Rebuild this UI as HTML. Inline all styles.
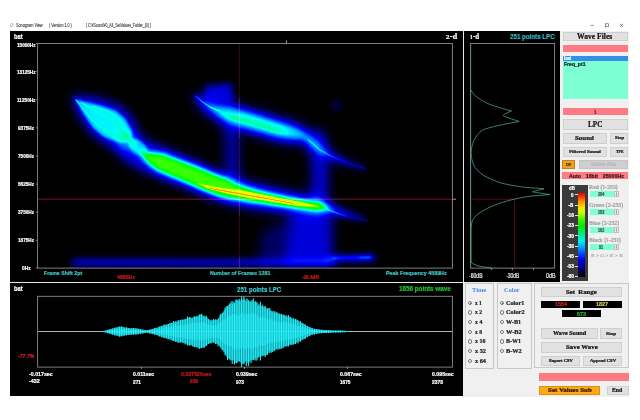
<!DOCTYPE html>
<html><head><meta charset="utf-8">
<style>
html,body{margin:0;padding:0;background:#fff;}
body{width:640px;height:420px;position:relative;overflow:hidden;font-family:"Liberation Sans",sans-serif;}
.a{position:absolute;}
.t{position:absolute;white-space:pre;line-height:1;font-weight:bold;color:#fff;font-size:5.5px;}
.s{font-family:"Liberation Serif",serif;}
.btn{position:absolute;background:#e1e1e1;border:0.5px solid #cfcfcf;box-sizing:border-box;font-family:"Liberation Serif",serif;font-weight:bold;color:#111;text-align:center;white-space:nowrap;overflow:hidden;}
.bar{position:absolute;background:#ff7a82;}
.grp{position:absolute;border:0.6px solid #c8c8c8;box-sizing:border-box;background:#f0f0f0;}
.rad{position:absolute;width:4.6px;height:4.6px;border:0.45px solid #777;border-radius:50%;background:#fff;box-sizing:border-box;}
.rad.on::after{content:"";position:absolute;left:1.0px;top:1.0px;width:1.7px;height:1.7px;border-radius:50%;background:#333;}
.rl{position:absolute;font-family:"Liberation Serif",serif;font-weight:bold;font-size:5.6px;line-height:1;color:#222;white-space:nowrap;}
.fld{position:absolute;background:#000;text-align:center;font-weight:bold;font-size:5.6px;line-height:7px;}
.spin{position:absolute;background:#7fffd4;font-size:4.6px;line-height:6px;text-align:center;color:#333;font-weight:bold;}
.sl{position:absolute;font-family:"Liberation Serif",serif;font-weight:bold;font-size:5.4px;line-height:1;color:#9a9a9a;white-space:nowrap;}
.db{position:absolute;color:#fff;font-size:4.6px;line-height:1;font-weight:bold;text-align:right;width:12px;}
</style></head><body>

<!-- title bar -->
<svg class="a" style="left:10.1px;top:23.3px" width="3.6" height="4.4" viewBox="0 0 5 6"><circle cx="2.4" cy="2.4" r="1.9" fill="#eef6ff" stroke="#5a7fb0" stroke-width="0.6"/><path d="M1.2 4.2 L0.6 5.6 L2.4 4.4" fill="#5a7fb0"/></svg>
<svg class="a" style="left:585px;top:20px" width="45" height="10" viewBox="0 0 45 10">
 <path d="M5.6 5.4 H8.8" stroke="#444" stroke-width="0.6"/>
 <rect x="20.3" y="3.8" width="3" height="3" fill="none" stroke="#444" stroke-width="0.6"/>
 <path d="M35 3.8 L38 6.9 M38 3.8 L35 6.9" stroke="#444" stroke-width="0.6"/>
</svg>

<!-- black panels -->
<div class="a" style="left:10px;top:31px;width:549.5px;height:364.7px;background:#000;"></div>
<!-- light grey right + bottom panel -->
<div class="a" style="left:559.5px;top:31px;width:69.2px;height:366px;background:#f0f0f0;"></div>
<div class="a" style="left:463.3px;top:282.6px;width:165.4px;height:114.4px;background:#f0f0f0;"></div>
<!-- separators -->
<div class="a" style="left:10px;top:281.6px;width:549.5px;height:1.2px;background:#e8e8e8;"></div>
<div class="a" style="left:463px;top:31px;width:1.2px;height:252px;background:#e8e8e8;"></div>

<!-- main svg (spectrogram + axes + wave + 1d) -->
<svg class="a" style="left:0;top:0" width="640" height="420" viewBox="0 0 640 420">
<defs>
<clipPath id="specclip"><rect x="38" y="43.5" width="414.4" height="224.6"/></clipPath>
<filter id="b7" x="-20%" y="-20%" width="140%" height="140%"><feGaussianBlur stdDeviation="6"/></filter>
<filter id="b4" x="-20%" y="-20%" width="140%" height="140%"><feGaussianBlur stdDeviation="3.2"/></filter>
<filter id="b2" x="-20%" y="-20%" width="140%" height="140%"><feGaussianBlur stdDeviation="1.8"/></filter>
<filter id="b1" x="-20%" y="-20%" width="140%" height="140%"><feGaussianBlur stdDeviation="0.7"/></filter>
<filter id="cmap" x="0" y="0" width="100%" height="100%" color-interpolation-filters="sRGB">
 <feComponentTransfer>
  <feFuncR type="table" tableValues="0 0 0 0 0 0 0 0.6 1 1 1"/>
  <feFuncG type="table" tableValues="0 0 0 0.5 1 1 1 1 1 0.5 0"/>
  <feFuncB type="table" tableValues="0 0.55 1 1 1 0.5 0 0 0 0 0"/>
 </feComponentTransfer>
</filter>
</defs>

<g clip-path="url(#specclip)">
<g filter="url(#cmap)">
<rect x="30" y="36" width="430" height="240" fill="#000"/>
<g filter="url(#b7)" fill="#fff" stroke="#fff" stroke-linecap="round" stroke-linejoin="round">
 <path d="M121.9,133.8 L125.7,134.6 L129.5,135.3 L132.7,135.6 L136.4,136.0 L139.5,137.7 L142.5,139.3 L145.5,141.0 L147.6,142.0 L150.6,143.3 L153.6,144.7 L156.6,146.0 L159.7,147.4 L162.1,148.4 L165.1,149.6 L168.1,150.9 L171.1,152.1 L174.1,153.4 L176.9,154.7 L179.8,155.8 L182.8,157.0 L185.8,158.2 L188.7,159.5 L191.7,160.7 L194.9,162.0 L198.1,163.4 L201.1,164.7 L204.1,166.1 L207.1,167.4 L210.0,168.7 L213.0,170.1 L215.5,171.2 L218.5,172.3 L221.5,173.5 L224.4,174.7 L227.4,175.9 L230.4,177.1 L233.4,178.3 L235.0,178.8 L238.0,179.6 L241.0,180.4 L244.0,181.2 L247.0,182.0 L250.0,182.9 L252.6,183.6 L255.3,184.3 L258.2,185.0 L261.2,185.7 L264.2,186.5 L267.1,187.2 L270.1,187.9 L272.9,188.6 L275.9,189.3 L278.8,190.0 L281.8,190.7 L284.8,191.3 L287.7,192.0 L290.7,192.7 L293.4,193.3 L296.4,193.8 L299.4,194.4 L302.3,195.0 L305.3,195.6 L308.3,196.2 L311.2,196.8 L314.0,197.3 L317.0,197.8 L319.9,198.6 L323.4,200.3 L326.6,202.5 L329.2,204.6 L331.9,206.4 L334.8,207.8 L337.7,209.1 L340.5,210.5 L343.4,211.9 L346.3,213.1 L349.2,214.1 L352.2,215.0 L355.2,215.8 L358.1,216.7 L361.1,217.5 L364.1,218.4 L363.9,219.0 L360.9,218.4 L357.9,217.7 L354.8,217.1 L351.8,216.4 L348.8,215.7 L345.7,215.0 L342.6,214.4 L339.5,214.0 L336.3,213.6 L333.2,213.2 L330.1,212.8 L326.8,212.9 L323.4,213.2 L320.6,213.7 L318.1,214.7 L315.0,214.8 L312.0,214.6 L308.8,214.4 L305.7,214.1 L302.7,213.9 L299.7,213.6 L296.6,213.3 L293.6,213.0 L290.6,212.7 L287.3,212.4 L284.3,212.0 L281.2,211.6 L278.2,211.2 L275.2,210.9 L272.1,210.5 L269.1,210.1 L265.9,209.7 L262.9,209.2 L259.8,208.8 L256.8,208.4 L253.8,207.9 L250.7,207.5 L247.4,207.0 L244.0,206.2 L241.0,205.5 L238.0,204.8 L235.0,204.1 L232.0,203.3 L229.0,202.6 L224.6,201.4 L221.6,200.3 L218.6,199.2 L215.6,198.1 L212.5,197.0 L209.5,195.9 L206.5,194.8 L203.0,193.4 L200.0,192.2 L196.9,190.9 L193.9,189.7 L190.9,188.4 L187.9,187.2 L185.1,186.0 L182.3,185.0 L179.3,183.9 L176.2,182.8 L173.2,181.6 L170.2,180.5 L167.1,179.3 L163.9,178.1 L160.9,176.9 L157.9,175.7 L154.9,174.5 L151.9,173.3 L148.3,171.7 L145.4,170.2 L142.4,168.8 L139.4,167.3 L136.4,165.9 L132.5,163.8 L129.5,162.1 L126.5,160.3 L123.6,158.6 L121.3,155.6 L118.5,152.0 L116.3,148.7 L114.1,145.5Z" fill-opacity="0.21" stroke="none"/>
 <path d="M72,96 L88,98 L103,101 L119,107 L130,117 L137,131 L135,146 L120,148 L102,141 L90,130 L80,114Z" fill-opacity="0.22" stroke="none"/>
 <path d="M195.6,94.1 L199.7,96.1 L203.4,97.8 L206.7,98.9 L210.3,100.1 L213.4,100.9 L216.0,101.0 L219.3,101.6 L222.6,102.1 L225.6,102.5 L228.6,102.6 L231.6,103.7 L234.6,104.7 L237.6,105.8 L240.2,106.6 L243.2,107.5 L246.2,108.4 L249.2,109.3 L252.2,110.2 L255.2,111.1 L258.2,112.0 L261.2,112.9 L264.2,113.8 L267.2,114.7 L270.2,115.6 L273.2,116.5 L276.2,117.4 L279.2,118.3 L282.2,119.2 L284.5,119.8 L287.5,120.5 L290.5,121.2 L293.4,122.1 L296.3,123.5 L299.3,125.0 L302.1,126.5 L304.9,128.0 L310.6,132.2 L313.1,135.4 L315.7,138.7 L318.2,142.0 L320.7,145.2 L322.6,147.7 L325.4,149.7 L328.2,151.6 L331.0,153.4 L333.8,154.9 L336.7,156.5 L339.6,158.0 L342.5,159.5 L345.4,161.1 L348.3,162.2 L351.3,163.3 L354.2,164.5 L357.2,165.6 L360.1,166.5 L363.1,167.4 L366.0,168.3 L366.0,168.7 L362.9,168.1 L359.9,167.5 L356.8,166.7 L353.8,165.8 L350.7,164.8 L347.7,163.9 L344.6,162.9 L341.5,161.9 L338.4,160.8 L335.3,159.7 L332.2,158.7 L329.0,157.6 L325.8,156.1 L322.6,154.7 L319.4,153.4 L315.3,151.2 L311.8,149.0 L308.3,146.9 L304.9,144.9 L301.4,142.8 L301.1,143.1 L297.9,143.0 L294.7,143.0 L291.7,143.0 L288.6,143.0 L285.5,142.6 L282.5,141.9 L279.5,141.2 L275.8,140.2 L272.8,139.3 L269.8,138.4 L266.8,137.5 L263.8,136.6 L260.8,135.7 L257.8,134.8 L254.8,133.9 L251.8,133.0 L248.8,132.1 L245.8,131.2 L242.8,130.3 L239.8,129.4 L236.8,128.5 L233.8,127.6 L230.4,126.5 L227.4,125.5 L224.4,124.5 L221.4,123.4 L218.4,121.5 L215.4,119.4 L212.7,117.4 L210.0,115.5 L206.6,113.1 L203.7,109.8 L201.3,106.8 L198.6,103.5 L196.3,100.0 L194.4,96.9Z" fill-opacity="0.2" stroke="none"/>
 <path d="M318,138 L320,170 L319,205" stroke-width="15" stroke-opacity="0.17" fill="none"/>
 <path d="M292,212 L331,214 L332,264 L286,264Z" fill-opacity="0.17" stroke="none"/>
 <path d="M262,232 L290,218 L290,264 L258,264Z" fill-opacity="0.07" stroke="none"/>
 <path d="M231,128 L233,178" stroke-width="13" stroke-opacity="0.13" fill="none"/>

</g>
<g filter="url(#b4)" fill="#fff" stroke="#fff" stroke-linecap="round" stroke-linejoin="round">
 <path d="M140.7,151.7 L143.1,151.5 L145.6,151.4 L148.1,151.3 L150.5,151.4 L152.8,151.6 L155.2,151.8 L157.5,152.1 L159.4,152.1 L161.7,152.2 L164.0,152.3 L166.0,153.2 L168.0,154.0 L170.0,154.8 L172.0,155.6 L174.0,156.4 L175.9,157.2 L177.8,157.9 L179.9,158.7 L181.9,159.4 L183.9,160.2 L185.9,160.9 L187.9,161.7 L189.9,162.5 L191.9,163.2 L194.1,164.1 L196.2,165.0 L198.3,165.8 L200.3,166.7 L202.3,167.5 L204.3,168.4 L206.3,169.2 L208.3,170.1 L210.3,170.9 L212.3,171.8 L214.1,172.5 L215.9,173.2 L217.9,173.9 L219.9,174.7 L221.9,175.4 L223.9,176.2 L225.9,176.9 L227.9,177.6 L229.9,178.5 L231.8,179.5 L233.1,180.4 L234.5,181.0 L236.4,181.7 L238.4,182.5 L240.3,183.3 L242.2,184.0 L244.2,184.7 L246.1,185.4 L248.1,186.0 L250.1,186.7 L251.8,187.3 L253.5,187.8 L255.5,188.3 L257.5,188.9 L259.4,189.4 L261.4,190.0 L263.4,190.5 L265.4,191.1 L267.3,191.6 L269.3,192.1 L271.2,192.5 L273.2,192.9 L275.1,193.3 L277.1,193.8 L279.1,194.2 L281.1,194.6 L283.1,195.0 L285.1,195.5 L287.1,195.9 L289.1,196.3 L291.0,196.7 L292.9,197.1 L294.8,197.4 L296.8,197.8 L298.8,198.2 L300.8,198.5 L302.8,198.9 L304.8,199.3 L306.8,199.6 L308.8,200.0 L310.7,200.3 L312.6,200.6 L314.6,201.0 L316.6,201.3 L318.6,201.6 L320.5,202.3 L322.8,203.1 L325.0,204.2 L326.8,205.3 L328.7,206.4 L330.7,207.1 L332.6,207.9 L334.5,208.6 L336.5,209.4 L338.5,210.1 L340.4,210.8 L342.4,211.5 L344.4,212.1 L346.4,212.8 L348.3,213.5 L350.3,214.1 L352.2,214.7 L354.2,215.3 L356.2,215.9 L358.2,216.5 L360.2,217.1 L362.1,217.6 L364.1,218.2 L366.0,218.8 L366.0,219.6 L363.9,219.2 L361.9,218.8 L359.8,218.3 L357.8,217.9 L355.8,217.5 L353.8,217.1 L351.8,216.7 L349.7,216.3 L347.7,215.7 L345.6,215.2 L343.6,214.7 L341.6,214.2 L339.6,213.7 L337.5,213.2 L335.5,212.8 L333.5,212.4 L331.4,212.0 L329.3,211.6 L327.3,211.2 L325.2,211.0 L323.0,210.9 L321.2,210.9 L319.5,211.2 L317.4,211.5 L315.4,211.3 L313.4,211.2 L311.4,211.0 L309.3,210.9 L307.2,210.6 L305.2,210.4 L303.2,210.2 L301.2,210.0 L299.2,209.8 L297.2,209.6 L295.2,209.3 L293.2,209.1 L291.1,208.9 L289.0,208.7 L286.9,208.4 L284.9,208.1 L282.9,207.8 L280.9,207.6 L278.9,207.3 L276.9,207.0 L274.9,206.7 L272.9,206.5 L270.8,206.2 L268.8,205.9 L266.7,205.6 L264.7,205.3 L262.6,205.0 L260.6,204.7 L258.6,204.5 L256.6,204.3 L254.5,204.0 L252.5,203.8 L250.5,203.6 L248.2,203.3 L245.9,202.9 L243.9,202.5 L241.9,202.2 L239.8,201.8 L237.8,201.5 L235.7,201.2 L233.6,201.0 L231.6,200.7 L229.5,200.5 L226.9,200.0 L224.2,199.3 L222.1,198.8 L220.1,198.2 L218.1,197.4 L216.1,196.6 L214.1,195.9 L212.1,195.1 L210.1,194.3 L208.1,193.5 L205.9,192.7 L203.7,191.7 L201.7,190.9 L199.7,190.0 L197.7,189.1 L195.7,188.2 L193.7,187.4 L191.7,186.5 L189.7,185.6 L187.8,184.7 L185.9,183.9 L184.1,183.2 L182.1,182.4 L180.1,181.6 L178.1,180.8 L176.1,180.0 L174.1,179.2 L172.1,178.5 L170.2,177.7 L168.1,176.8 L166.0,176.0 L164.0,175.1 L162.0,174.3 L160.0,173.4 L158.0,172.6 L156.0,171.8 L154.3,170.3 L152.6,168.7 L150.5,167.0 L148.8,165.4 L147.2,163.7 L145.5,162.0 L143.9,160.3 L142.4,158.3 L140.9,156.3 L139.3,154.3Z" fill-opacity="0.3" stroke="none"/>

 <path d="M195.3,94.8 L197.6,96.5 L199.8,98.0 L201.9,99.6 L203.9,100.9 L206.0,102.1 L208.1,103.3 L210.4,104.3 L212.1,104.8 L214.3,105.2 L216.5,105.6 L218.7,105.9 L220.9,106.2 L223.1,106.4 L225.0,106.5 L227.2,106.6 L229.4,106.7 L231.5,107.1 L233.6,107.7 L235.6,108.3 L237.5,108.8 L239.3,109.3 L241.4,109.8 L243.4,110.3 L245.4,110.8 L247.4,111.3 L249.5,111.8 L251.5,112.4 L253.5,112.9 L255.5,113.6 L257.5,114.2 L259.5,114.9 L261.4,115.5 L263.4,116.2 L265.4,116.8 L267.4,117.5 L269.4,118.1 L271.4,118.8 L273.4,119.4 L275.3,120.1 L277.3,120.7 L279.3,121.4 L281.3,122.0 L282.8,122.6 L284.7,123.3 L286.7,124.1 L288.6,124.8 L290.5,125.5 L292.5,126.3 L294.4,127.0 L296.4,127.8 L298.3,128.7 L300.2,129.8 L302.0,130.9 L303.9,132.0 L307.0,134.4 L308.9,136.3 L310.7,138.1 L312.7,140.0 L314.6,142.0 L316.5,143.9 L318.4,145.7 L320.4,147.6 L322.0,148.8 L323.9,149.9 L325.9,151.1 L327.9,152.3 L329.8,153.4 L331.7,154.4 L333.6,155.3 L335.6,156.3 L337.6,157.2 L339.6,158.1 L341.5,159.1 L343.5,160.0 L345.4,160.9 L347.4,161.6 L349.3,162.4 L351.3,163.2 L353.3,163.9 L355.3,164.7 L357.2,165.5 L359.2,166.1 L361.1,166.7 L363.1,167.3 L365.1,167.8 L364.9,168.7 L362.9,168.2 L360.9,167.8 L358.8,167.4 L356.8,166.9 L354.7,166.2 L352.7,165.6 L350.7,165.0 L348.7,164.4 L346.6,163.7 L344.6,163.1 L342.5,162.3 L340.5,161.5 L338.4,160.7 L336.4,159.9 L334.4,159.1 L332.4,158.3 L330.3,157.5 L328.2,156.5 L326.1,155.4 L324.1,154.4 L322.1,153.4 L320.0,152.3 L317.6,150.6 L315.6,148.9 L313.5,147.1 L311.4,145.4 L309.3,143.8 L307.3,142.1 L305.1,140.5 L303.0,138.9 L302.1,139.0 L300.0,139.1 L297.8,139.2 L295.7,139.3 L293.6,139.2 L291.6,139.0 L289.5,138.9 L287.5,138.7 L285.4,138.5 L283.3,138.3 L281.3,138.1 L279.2,137.9 L276.7,137.4 L274.7,136.8 L272.7,136.3 L270.7,135.7 L268.6,135.2 L266.6,134.6 L264.6,134.1 L262.6,133.5 L260.6,133.0 L258.6,132.4 L256.6,131.9 L254.5,131.3 L252.5,130.8 L250.5,130.2 L248.5,129.7 L246.5,129.0 L244.5,128.4 L242.6,127.7 L240.6,127.0 L238.6,126.3 L236.6,125.6 L234.7,124.9 L232.5,124.2 L230.4,123.3 L228.4,122.6 L226.5,121.8 L224.6,120.8 L222.8,119.5 L221.0,118.2 L218.9,116.7 L217.1,115.3 L215.3,113.9 L213.5,112.6 L211.7,111.3 L209.9,110.1 L207.6,108.3 L205.9,106.6 L204.0,105.0 L202.1,103.5 L200.1,101.7 L198.2,99.8 L196.4,97.9 L194.7,96.2Z" fill-opacity="0.24" stroke="none"/>
 <path d="M204,86.5 L231,83 L234,102 L206,100Z" fill-opacity="0.16" stroke="none"/>
 <path d="M75,262.5 L140,262.5 L200,263 L270,262.5 L330,262" stroke-width="7" stroke-opacity="0.16" fill="none"/>
 <path d="M330,259 L372,258" stroke-width="8" stroke-opacity="0.13" fill="none"/>
 <path d="M336,105 L337,106" stroke-width="8" stroke-opacity="0.07" fill="none"/>
</g>
<g filter="url(#b2)" fill="#fff" stroke="#fff" stroke-linecap="round" stroke-linejoin="round">
 <path d="M142.0,153.9 L144.5,153.8 L147.0,153.8 L149.4,153.7 L151.9,153.6 L154.2,154.0 L156.4,154.4 L158.4,154.6 L160.6,154.9 L162.9,155.1 L164.9,155.9 L166.9,156.7 L168.9,157.4 L171.0,158.2 L173.0,159.0 L174.9,159.7 L176.9,160.4 L178.9,161.1 L180.9,161.8 L182.9,162.5 L185.0,163.3 L187.0,164.0 L189.0,164.7 L191.0,165.4 L193.2,166.2 L195.4,167.1 L197.4,167.9 L199.4,168.7 L201.4,169.5 L203.5,170.3 L205.5,171.1 L207.5,172.0 L209.5,172.8 L211.5,173.7 L213.3,174.5 L215.1,175.2 L217.1,175.9 L219.1,176.7 L221.1,177.5 L223.1,178.2 L225.1,179.0 L227.0,180.1 L228.8,181.3 L230.7,182.4 L232.1,183.4 L233.6,184.3 L235.5,185.2 L237.5,185.8 L239.5,186.4 L241.5,187.0 L243.4,187.6 L245.4,188.2 L247.4,188.8 L249.4,189.5 L251.2,190.0 L253.0,190.5 L255.0,191.0 L257.0,191.5 L259.0,192.0 L260.9,192.5 L262.9,193.0 L264.9,193.4 L266.9,193.8 L268.9,194.3 L270.8,194.7 L272.8,195.1 L274.8,195.5 L276.8,195.9 L278.8,196.3 L280.7,196.7 L282.7,197.1 L284.7,197.5 L286.7,197.8 L288.7,198.2 L290.7,198.6 L292.6,199.0 L294.6,199.3 L296.6,199.6 L298.6,200.0 L300.6,200.3 L302.6,200.6 L304.5,201.0 L306.5,201.3 L308.5,201.6 L310.5,202.0 L312.4,202.2 L314.4,202.5 L316.4,202.8 L318.4,203.1 L320.3,204.0 L322.4,204.9 L324.4,206.2 L326.2,207.5 L328.0,208.8 L328.0,208.8 L325.8,208.8 L323.6,208.9 L321.6,209.1 L319.7,209.5 L317.6,210.0 L315.6,209.8 L313.6,209.6 L311.6,209.4 L309.5,209.2 L307.5,209.0 L305.5,208.7 L303.5,208.5 L301.4,208.3 L299.4,208.0 L297.4,207.8 L295.4,207.5 L293.4,207.3 L291.4,207.0 L289.3,206.8 L287.3,206.5 L285.3,206.2 L283.3,205.8 L281.3,205.5 L279.3,205.2 L277.2,204.9 L275.2,204.6 L273.2,204.3 L271.2,204.0 L269.2,203.7 L267.1,203.3 L265.1,203.0 L263.1,202.6 L261.1,202.3 L259.1,202.0 L257.0,201.7 L255.0,201.4 L253.0,201.2 L251.0,200.9 L248.8,200.6 L246.6,200.1 L244.6,199.7 L242.6,199.3 L240.6,198.9 L238.5,198.5 L236.5,198.1 L234.5,197.7 L232.5,197.3 L230.4,197.2 L227.9,197.0 L225.3,196.5 L223.2,196.1 L221.0,195.7 L218.9,195.3 L216.9,194.6 L214.9,193.8 L212.9,193.1 L210.9,192.3 L208.9,191.5 L206.7,190.7 L204.5,189.8 L202.5,188.9 L200.5,188.1 L198.5,187.2 L196.5,186.3 L194.6,185.4 L192.6,184.5 L190.6,183.6 L188.6,182.7 L186.8,181.8 L185.0,181.0 L183.0,180.2 L181.0,179.4 L179.0,178.5 L177.1,177.7 L175.1,176.8 L173.1,176.0 L171.1,175.2 L169.1,174.3 L167.0,173.4 L165.0,172.5 L163.1,171.6 L161.1,170.8 L159.1,169.9 L157.1,169.0 L155.4,167.6 L153.6,166.2 L151.6,164.7 L149.8,163.2 L148.1,161.7 L146.6,159.8 L145.0,157.8 L143.5,155.9 L142.0,153.9Z" fill-opacity="0.34" stroke="none"/>
 <path d="M74,98 L88,102 L101,105.5 L116,110.5 L126,119.5 L132,131 L131.5,141 L120,142.5 L104,137.5 L93,128.5 L83,114Z" fill-opacity="0.225" stroke="none"/>
 <ellipse cx="138" cy="147" rx="10.5" ry="6.8" transform="rotate(36 138 147)" fill-opacity="0.2" stroke="none"/>
 <path d="M219.4,112.6 L221.5,113.3 L223.6,113.7 L225.7,114.2 L227.8,114.6 L229.9,115.1 L232.0,115.6 L234.0,116.2 L236.0,116.9 L238.0,117.5 L240.0,118.1 L242.0,118.7 L244.0,119.3 L246.0,119.9 L248.0,120.5 L250.0,121.1 L252.0,121.7 L254.0,122.2 L256.0,122.8 L258.0,123.4 L260.0,124.0 L262.0,124.6 L264.0,125.2 L266.0,125.8 L268.0,126.4 L270.0,127.0 L272.0,127.6 L274.0,128.2 L276.0,128.9 L277.9,129.7 L279.9,130.5 L281.9,131.1 L283.8,131.8 L285.8,132.4 L287.7,133.1 L289.7,133.7 L291.6,134.4 L291.6,134.4 L289.6,134.1 L287.6,133.8 L285.5,133.5 L283.5,133.2 L281.4,132.9 L279.3,132.6 L277.2,132.2 L275.1,131.8 L273.1,131.3 L271.1,130.7 L269.1,130.1 L267.1,129.4 L265.1,128.8 L263.1,128.2 L261.1,127.6 L259.1,127.0 L257.1,126.4 L255.1,125.8 L253.1,125.2 L251.1,124.6 L249.1,124.0 L247.1,123.4 L245.1,122.8 L243.1,122.2 L241.1,121.6 L239.1,121.0 L237.1,120.4 L235.1,119.8 L233.0,119.1 L231.0,118.4 L229.1,117.5 L227.1,116.5 L225.2,115.6 L223.3,114.7 L221.3,113.7 L219.4,112.6Z" fill-opacity="0.22" stroke="none"/>
 <path d="M233.0,112.4 L235.1,112.9 L237.1,113.2 L239.1,113.6 L241.2,113.9 L243.3,114.3 L245.3,114.9 L247.3,115.5 L249.3,116.1 L251.3,116.7 L253.3,117.3 L255.3,117.9 L257.3,118.5 L259.3,119.1 L261.3,119.7 L263.3,120.3 L265.3,120.9 L267.3,121.5 L269.3,122.1 L271.3,122.7 L273.3,123.3 L275.3,123.9 L277.3,124.5 L279.3,125.1 L281.2,125.7 L283.0,126.3 L284.9,127.0 L286.9,127.7 L288.8,128.3 L290.8,129.0 L292.7,129.7 L292.7,129.7 L290.7,129.4 L288.6,129.2 L286.6,128.9 L284.5,128.7 L282.5,128.4 L280.5,128.2 L278.5,127.6 L276.5,127.0 L274.5,126.4 L272.5,125.8 L270.5,125.2 L268.5,124.6 L266.5,124.0 L264.5,123.4 L262.5,122.8 L260.5,122.2 L258.5,121.6 L256.5,121.0 L254.5,120.4 L252.5,119.8 L250.5,119.2 L248.5,118.6 L246.5,118.0 L244.5,117.4 L242.5,116.8 L240.6,115.9 L238.7,115.1 L236.8,114.2 L235.0,113.4 L233.0,112.4Z" fill-opacity="0.1" stroke="none"/>
 <path d="M333,258.3 L371,257.3" stroke-width="2.4" stroke-opacity="0.2" fill="none"/>
 <path d="M360,257.6 L371,257.3" stroke-width="2.4" stroke-opacity="0.12" fill="none"/>
</g>
<g filter="url(#b1)" fill="#fff" stroke="#fff" stroke-linecap="butt" stroke-linejoin="round">
 <path d="M196.0,183.0 L198.1,183.4 L200.2,183.8 L202.2,184.3 L204.3,184.7 L206.4,185.1 L208.5,185.5 L210.4,186.1 L212.3,186.4 L214.3,186.7 L216.4,187.0 L218.4,187.3 L220.4,187.7 L222.4,188.0 L224.4,188.3 L226.4,188.6 L228.5,188.9 L230.4,189.2 L232.4,189.5 L234.5,189.8 L236.5,190.1 L238.5,190.4 L240.5,190.6 L242.5,191.0 L244.5,191.4 L246.5,191.8 L248.5,192.1 L250.5,192.5 L252.5,192.9 L254.5,193.3 L256.5,193.6 L258.5,194.0 L260.5,194.4 L262.5,194.7 L264.5,195.1 L266.5,195.5 L268.5,195.9 L270.5,196.2 L272.5,196.6 L274.5,197.0 L276.4,197.3 L278.4,197.7 L280.4,198.1 L282.4,198.5 L284.4,198.8 L286.4,199.2 L288.4,199.6 L290.4,199.9 L292.4,200.3 L294.3,200.6 L296.3,200.9 L298.3,201.2 L300.3,201.5 L302.3,202.1 L304.3,202.6 L306.2,203.2 L308.2,203.7 L310.2,204.3 L312.1,204.8 L314.1,205.4 L316.0,205.9 L318.0,206.5 L318.0,206.5 L316.0,206.5 L313.9,206.5 L311.9,206.4 L309.8,206.4 L307.8,206.4 L305.8,206.4 L303.7,206.3 L301.7,206.3 L299.7,206.3 L297.7,206.0 L295.7,205.7 L293.7,205.5 L291.6,205.1 L289.6,204.8 L287.6,204.5 L285.6,204.1 L283.6,203.8 L281.6,203.4 L279.6,203.1 L277.6,202.7 L275.6,202.4 L273.5,202.0 L271.5,201.7 L269.5,201.4 L267.5,201.0 L265.5,200.7 L263.5,200.3 L261.5,200.0 L259.5,199.6 L257.5,199.3 L255.5,198.9 L253.5,198.6 L251.5,198.2 L249.5,197.9 L247.5,197.5 L245.5,197.2 L243.5,196.8 L241.5,196.5 L239.5,196.2 L237.5,195.7 L235.5,195.3 L233.5,194.8 L231.6,194.4 L229.6,194.0 L227.5,193.5 L225.6,193.0 L223.6,192.5 L221.6,192.0 L219.6,191.5 L217.6,191.1 L215.6,190.6 L213.7,190.1 L211.7,189.6 L209.6,189.1 L207.5,188.4 L205.6,187.5 L203.7,186.6 L201.8,185.7 L199.8,184.8 L197.9,183.9 L196.0,183.0Z" fill-opacity="0.36" stroke="none"/>
 <path d="M210,188.3 L230,192 L250,195.6 L270,199.2 L293,203.3" stroke-width="1.3" stroke-opacity="0.55" fill="none"/>
 <path d="M236,189.8 L255,193.4 L275,197.2" stroke-width="0.9" stroke-opacity="0.3" fill="none"/>
 <path d="M76,100 L84,110 L93,121 L104,130 L116,136" stroke-width="1.6" stroke-opacity="0.09" fill="none"/>
 <path d="M80,102 L96,111 L110,119 L121,129 L127,137" stroke-width="1.8" stroke-opacity="0.08" fill="none"/>
 <path d="M92,106 L106,110.5 L117,117 L124,125" stroke-width="1.8" stroke-opacity="0.07" fill="none"/>
 <path d="M75,99 L80,104" stroke-width="1.4" stroke-opacity="0.12" fill="none"/>
 <path d="M195,95.5 L202,101.5 L210,107 L222,112" stroke-width="1.4" stroke-opacity="0.18" fill="none"/>
 <path d="M308,139.5 L320,150 L330,155.5 L345,162" stroke-width="1.6" stroke-opacity="0.1" fill="none"/>
 <path d="M345,162 L358,166.5 L366,168.5" stroke-width="1.3" stroke-opacity="0.1" fill="none"/>
 <path d="M326,209 L335,212.6 L347,216.6" stroke-width="1.6" stroke-opacity="0.13" fill="none"/>
 <path d="M347,216.6 L358,218.9 L368,220.6" stroke-width="1.3" stroke-opacity="0.1" fill="none"/>
</g>
</g>
</g>

<!-- crosshair -->
<path d="M239.3,44 V268" stroke="#420c14" stroke-width="0.8" style="mix-blend-mode:screen"/>
<path d="M239.3,105 V130 M239.3,184 V207" stroke="#ffd0e0" stroke-width="0.7" opacity="0.22"/>
<path d="M239.3,98 V105 M239.3,130 V138 M239.3,176 V184 M239.3,207 V216 M239.3,257 V268" stroke="#c8a0ff" stroke-width="0.7" opacity="0.22"/>
<path d="M38,199.2 H452" stroke="#8a1424" stroke-width="0.9" style="mix-blend-mode:screen"/>
<path d="M452,199.2 H456" stroke="#ddd" stroke-width="0.7"/>
<path d="M286.5,40.5 V43.5" stroke="#ddd" stroke-width="0.7"/>
<!-- spectrogram axes -->
<rect x="37.6" y="43.5" width="414.8" height="224.6" fill="none" stroke="#8c8c8c" stroke-width="0.9"/>
<path d="M35.8,43.6 H37.6 M35.8,71.7 H37.6 M35.8,99.8 H37.6 M35.8,127.9 H37.6 M35.8,156 H37.6 M35.8,184.1 H37.6 M35.8,212.2 H37.6 M35.8,240.3 H37.6 M35.8,268 H37.6" stroke="#aaa" stroke-width="0.7"/>
<!-- 1-d panel -->
<rect x="470.6" y="43.5" width="84" height="224.6" fill="none" stroke="#8c8c8c" stroke-width="0.9"/>
<path d="M470.6,43.5 V268" stroke="#4a9088" stroke-width="0.9"/>
<path d="M491.3,268 V270.2 M512.3,268 V270.2 M533.4,268 V270.2" stroke="#bbb" stroke-width="0.7"/>
<path d="M471,199.2 H514.6 V268" fill="none" stroke="#6a1018" stroke-width="0.8"/>
<path d="M470.8,90 C474,96 480,100 490,104.5 C500,108 508,110 511.5,111 C506,113 503,114.5 503.5,116 C508,118 515,120 519,121.5 C505,124 490,127 482.5,130 C475,136 472,142 471,152.5 C471.5,160 473,164 475,167.5 C479,172 482,175 487.5,177.5 C495,181 500,183 507.5,184.5 C517,186.5 525,187.3 530,187.7 C537,188.2 541,188.5 544,188.8 C538,190.3 533,191.3 532.5,191.8 C538,193 545,193.8 550,194.5 C543,195.3 535,195.8 530,196.2 C522,197.5 517,198.5 512.5,199.6 C505,201.5 500,203 495,205 C488,208 484,210 480,212.5 C476,215.5 474,217.5 472.5,220.5 C471.3,224 471,227 471,232 L471,262 C473,264 475,265 477.5,265.6 C482,266.8 486,267.3 491,267.8" fill="none" stroke="#5cb0a6" stroke-width="0.7"/>
<!-- wave panel -->
<path d="M38,331.5 H452" stroke="#e0e0e0" stroke-width="0.8"/>
<path d="M100.0,331.5 L101.2,331.4 L102.4,331.2 L103.6,331.1 L104.8,330.8 L106.0,330.5 L107.2,330.1 L108.4,329.6 L109.6,329.2 L110.8,328.9 L112.0,328.7 L113.2,328.2 L114.4,328.0 L115.6,327.8 L116.8,327.3 L118.0,327.0 L119.2,326.7 L120.4,326.6 L121.6,326.5 L122.8,326.8 L124.0,327.3 L125.2,327.5 L126.4,327.5 L127.6,327.7 L128.8,327.9 L130.0,328.5 L131.2,328.1 L132.4,328.1 L133.6,328.5 L134.8,328.3 L136.0,328.6 L137.2,328.3 L138.4,328.9 L139.6,329.1 L140.8,329.2 L142.0,329.5 L143.2,329.8 L144.4,329.9 L145.6,330.1 L146.8,330.3 L148.0,329.9 L149.2,329.8 L150.4,329.6 L151.6,329.2 L152.8,329.0 L154.0,328.6 L155.2,328.0 L156.4,327.8 L157.6,327.5 L158.8,327.1 L160.0,326.6 L161.2,325.8 L162.4,325.7 L163.6,325.6 L164.8,324.6 L166.0,324.7 L167.2,323.9 L168.4,324.0 L169.6,322.9 L170.8,323.0 L172.0,323.0 L173.2,322.5 L174.4,322.1 L175.6,321.4 L176.8,321.6 L178.0,321.4 L179.2,320.5 L180.4,320.1 L181.6,319.3 L182.8,320.3 L184.0,319.3 L185.2,319.4 L186.4,318.5 L187.6,318.5 L188.8,317.2 L190.0,317.3 L191.2,317.9 L192.4,317.8 L193.6,316.3 L194.8,317.2 L196.0,316.0 L197.2,316.0 L198.4,316.1 L199.6,314.5 L200.8,314.6 L202.0,314.8 L203.2,316.0 L204.4,315.3 L205.6,316.8 L206.8,317.0 L208.0,318.4 L209.2,319.3 L210.4,320.4 L211.6,319.6 L212.8,320.3 L214.0,320.0 L215.2,320.0 L216.4,320.1 L217.6,319.4 L218.8,317.4 L220.0,315.3 L221.2,313.7 L222.4,312.8 L223.6,311.0 L224.8,309.7 L226.0,306.2 L227.2,306.0 L228.4,304.9 L229.6,304.3 L230.8,301.7 L232.0,300.9 L233.2,301.4 L234.4,302.5 L235.6,299.5 L236.8,299.7 L238.0,301.1 L239.2,300.1 L240.4,300.8 L241.6,299.0 L242.8,300.1 L244.0,297.3 L245.2,300.8 L246.4,297.9 L247.6,298.8 L248.8,300.5 L250.0,301.8 L251.2,300.6 L252.4,299.7 L253.6,302.6 L254.8,301.3 L256.0,302.0 L257.2,302.2 L258.4,303.5 L259.6,304.8 L260.8,306.8 L262.0,305.2 L263.2,307.1 L264.4,306.4 L265.6,307.3 L266.8,308.6 L268.0,307.9 L269.2,308.4 L270.4,311.0 L271.6,310.3 L272.8,311.5 L274.0,310.8 L275.2,311.2 L276.4,312.4 L277.6,312.8 L278.8,313.5 L280.0,314.7 L281.2,313.5 L282.4,314.8 L283.6,315.6 L284.8,315.0 L286.0,316.8 L287.2,316.3 L288.4,316.8 L289.6,316.8 L290.8,317.3 L292.0,318.5 L293.2,319.3 L294.4,319.2 L295.6,319.2 L296.8,319.6 L298.0,320.2 L299.2,321.7 L300.4,322.3 L301.6,322.5 L302.8,323.0 L304.0,324.2 L305.2,324.5 L306.4,325.8 L307.6,326.0 L308.8,326.8 L310.0,327.3 L311.2,327.7 L312.4,328.0 L313.6,328.7 L314.8,328.9 L316.0,329.0 L317.2,329.3 L318.4,329.3 L319.6,329.7 L320.8,329.8 L322.0,329.7 L323.2,329.9 L324.4,330.0 L325.6,329.9 L326.8,330.0 L328.0,330.2 L329.2,330.2 L330.4,330.3 L331.6,330.4 L332.8,330.5 L334.0,330.5 L335.2,330.5 L336.4,330.5 L337.6,330.6 L338.8,330.6 L340.0,330.6 L341.2,330.6 L342.4,330.7 L343.6,330.7 L344.8,330.7 L346.0,330.9 L347.2,331.1 L348.4,331.3 L349.6,331.4 L349.6,331.6 L348.4,331.7 L347.2,331.9 L346.0,332.1 L344.8,332.2 L343.6,332.3 L342.4,332.3 L341.2,332.3 L340.0,332.4 L338.8,332.4 L337.6,332.4 L336.4,332.4 L335.2,332.5 L334.0,332.5 L332.8,332.6 L331.6,332.7 L330.4,332.7 L329.2,332.7 L328.0,332.8 L326.8,332.8 L325.6,332.9 L324.4,333.0 L323.2,333.1 L322.0,333.2 L320.8,333.2 L319.6,333.3 L318.4,333.6 L317.2,333.7 L316.0,333.7 L314.8,334.0 L313.6,334.4 L312.4,334.7 L311.2,335.0 L310.0,335.6 L308.8,335.9 L307.6,336.6 L306.4,337.6 L305.2,338.4 L304.0,338.7 L302.8,339.6 L301.6,340.2 L300.4,341.0 L299.2,341.4 L298.0,341.5 L296.8,342.6 L295.6,343.3 L294.4,343.9 L293.2,343.5 L292.0,344.9 L290.8,344.4 L289.6,344.7 L288.4,345.1 L287.2,346.8 L286.0,346.6 L284.8,346.8 L283.6,348.2 L282.4,348.3 L281.2,349.1 L280.0,349.3 L278.8,349.3 L277.6,350.0 L276.4,349.2 L275.2,350.3 L274.0,351.6 L272.8,351.6 L271.6,353.0 L270.4,352.4 L269.2,353.6 L268.0,352.5 L266.8,355.0 L265.6,355.6 L264.4,355.6 L263.2,355.7 L262.0,355.7 L260.8,357.1 L259.6,356.7 L258.4,357.4 L257.2,360.7 L256.0,360.5 L254.8,360.5 L253.6,359.5 L252.4,360.6 L251.2,360.2 L250.0,361.0 L248.8,363.7 L247.6,363.1 L246.4,361.3 L245.2,361.4 L244.0,363.0 L242.8,364.3 L241.6,362.9 L240.4,362.4 L239.2,361.6 L238.0,360.9 L236.8,363.5 L235.6,362.9 L234.4,361.2 L233.2,360.1 L232.0,359.8 L230.8,361.0 L229.6,358.9 L228.4,358.6 L227.2,357.8 L226.0,355.6 L224.8,352.8 L223.6,352.5 L222.4,349.3 L221.2,349.6 L220.0,347.0 L218.8,344.9 L217.6,344.2 L216.4,343.6 L215.2,343.3 L214.0,342.5 L212.8,342.0 L211.6,343.1 L210.4,343.1 L209.2,343.5 L208.0,344.0 L206.8,345.2 L205.6,346.5 L204.4,347.3 L203.2,347.3 L202.0,348.1 L200.8,348.0 L199.6,348.5 L198.4,347.5 L197.2,348.0 L196.0,347.1 L194.8,346.6 L193.6,346.9 L192.4,346.4 L191.2,344.6 L190.0,345.2 L188.8,345.0 L187.6,345.1 L186.4,343.6 L185.2,343.6 L184.0,342.9 L182.8,342.9 L181.6,342.5 L180.4,342.3 L179.2,342.7 L178.0,341.6 L176.8,341.9 L175.6,341.0 L174.4,341.3 L173.2,340.9 L172.0,340.8 L170.8,339.5 L169.6,339.6 L168.4,339.5 L167.2,339.1 L166.0,338.1 L164.8,338.2 L163.6,337.3 L162.4,337.4 L161.2,336.7 L160.0,336.3 L158.8,336.0 L157.6,335.6 L156.4,335.0 L155.2,334.7 L154.0,334.3 L152.8,334.2 L151.6,333.7 L150.4,333.4 L149.2,333.3 L148.0,333.0 L146.8,332.7 L145.6,332.9 L144.4,333.1 L143.2,333.3 L142.0,333.4 L140.8,333.6 L139.6,333.8 L138.4,334.1 L137.2,334.5 L136.0,334.5 L134.8,334.5 L133.6,334.6 L132.4,334.6 L131.2,334.6 L130.0,334.6 L128.8,335.0 L127.6,335.0 L126.4,335.3 L125.2,335.3 L124.0,335.6 L122.8,336.0 L121.6,336.4 L120.4,336.2 L119.2,336.3 L118.0,336.0 L116.8,335.8 L115.6,335.3 L114.4,334.9 L113.2,334.5 L112.0,334.2 L110.8,334.1 L109.6,333.8 L108.4,333.2 L107.2,333.0 L106.0,332.5 L104.8,332.2 L103.6,331.9 L102.4,331.8 L101.2,331.6 L100.0,331.5Z" fill="#0ea6b2"/>
<path d="M100.0,331.5 L101.2,331.4 L102.4,331.3 L103.6,331.3 L104.8,331.2 L106.0,330.9 L107.2,330.6 L108.4,330.5 L109.6,330.3 L110.8,330.2 L112.0,330.0 L113.2,329.7 L114.4,329.5 L115.6,329.5 L116.8,329.0 L118.0,328.7 L119.2,329.1 L120.4,328.8 L121.6,329.0 L122.8,329.0 L124.0,329.0 L125.2,329.1 L126.4,329.5 L127.6,329.3 L128.8,329.7 L130.0,329.7 L131.2,329.5 L132.4,329.6 L133.6,329.7 L134.8,329.7 L136.0,329.6 L137.2,329.9 L138.4,329.9 L139.6,330.0 L140.8,330.1 L142.0,330.3 L143.2,330.4 L144.4,330.5 L145.6,330.7 L146.8,330.9 L148.0,330.7 L149.2,330.6 L150.4,330.3 L151.6,330.2 L152.8,330.0 L154.0,329.6 L155.2,329.5 L156.4,329.2 L157.6,329.1 L158.8,329.1 L160.0,329.1 L161.2,328.6 L162.4,328.5 L163.6,328.0 L164.8,327.4 L166.0,327.1 L167.2,327.1 L168.4,327.1 L169.6,327.5 L170.8,327.1 L172.0,326.9 L173.2,326.2 L174.4,325.5 L175.6,325.9 L176.8,326.0 L178.0,325.4 L179.2,325.7 L180.4,325.6 L181.6,325.5 L182.8,325.4 L184.0,324.9 L185.2,324.1 L186.4,323.5 L187.6,324.9 L188.8,324.1 L190.0,322.9 L191.2,323.6 L192.4,323.0 L193.6,322.3 L194.8,322.8 L196.0,322.6 L197.2,323.3 L198.4,322.4 L199.6,322.4 L200.8,322.5 L202.0,322.4 L203.2,322.1 L204.4,321.8 L205.6,322.8 L206.8,324.5 L208.0,323.8 L209.2,325.0 L210.4,324.7 L211.6,325.1 L212.8,325.1 L214.0,325.7 L215.2,324.4 L216.4,325.6 L217.6,324.8 L218.8,323.4 L220.0,322.6 L221.2,322.7 L222.4,320.6 L223.6,320.2 L224.8,319.8 L226.0,317.3 L227.2,318.8 L228.4,315.3 L229.6,314.8 L230.8,315.9 L232.0,314.0 L233.2,314.3 L234.4,315.4 L235.6,313.4 L236.8,314.6 L238.0,315.9 L239.2,315.8 L240.4,313.5 L241.6,312.9 L242.8,312.4 L244.0,314.8 L245.2,315.4 L246.4,312.6 L247.6,314.7 L248.8,314.5 L250.0,314.6 L251.2,313.3 L252.4,312.7 L253.6,313.0 L254.8,313.7 L256.0,316.1 L257.2,314.1 L258.4,317.2 L259.6,317.1 L260.8,317.3 L262.0,318.3 L263.2,316.5 L264.4,316.7 L265.6,319.3 L266.8,317.4 L268.0,320.5 L269.2,319.2 L270.4,318.2 L271.6,319.0 L272.8,320.1 L274.0,321.6 L275.2,320.2 L276.4,322.2 L277.6,322.3 L278.8,321.3 L280.0,322.5 L281.2,322.0 L282.4,322.5 L283.6,321.4 L284.8,322.7 L286.0,322.4 L287.2,322.2 L288.4,322.7 L289.6,322.9 L290.8,323.2 L292.0,323.3 L293.2,324.4 L294.4,324.2 L295.6,325.1 L296.8,324.8 L298.0,325.7 L299.2,326.3 L300.4,326.5 L301.6,327.1 L302.8,327.4 L304.0,327.1 L305.2,328.2 L306.4,328.1 L307.6,328.9 L308.8,329.1 L310.0,329.3 L311.2,329.4 L312.4,329.8 L313.6,330.0 L314.8,330.1 L316.0,330.1 L317.2,330.3 L318.4,330.2 L319.6,330.5 L320.8,330.5 L322.0,330.7 L323.2,330.5 L324.4,330.6 L325.6,330.7 L326.8,330.7 L328.0,330.8 L329.2,330.8 L330.4,330.8 L331.6,330.9 L332.8,330.9 L334.0,330.9 L335.2,330.9 L336.4,331.0 L337.6,331.0 L338.8,331.1 L340.0,331.0 L341.2,331.1 L342.4,331.0 L343.6,331.1 L344.8,331.1 L346.0,331.2 L347.2,331.3 L348.4,331.4 L349.6,331.5 L349.6,331.5 L348.4,331.6 L347.2,331.7 L346.0,331.8 L344.8,331.9 L343.6,331.9 L342.4,331.9 L341.2,331.9 L340.0,332.0 L338.8,332.0 L337.6,332.0 L336.4,332.0 L335.2,332.1 L334.0,332.1 L332.8,332.1 L331.6,332.1 L330.4,332.2 L329.2,332.3 L328.0,332.2 L326.8,332.2 L325.6,332.4 L324.4,332.4 L323.2,332.4 L322.0,332.5 L320.8,332.4 L319.6,332.6 L318.4,332.6 L317.2,332.8 L316.0,332.8 L314.8,332.9 L313.6,333.2 L312.4,333.2 L311.2,333.4 L310.0,333.9 L308.8,333.9 L307.6,334.1 L306.4,335.1 L305.2,335.1 L304.0,335.2 L302.8,336.1 L301.6,336.1 L300.4,337.3 L299.2,336.9 L298.0,336.9 L296.8,338.4 L295.6,337.4 L294.4,338.1 L293.2,338.8 L292.0,339.0 L290.8,339.7 L289.6,339.8 L288.4,339.8 L287.2,339.5 L286.0,340.4 L284.8,340.2 L283.6,340.7 L282.4,340.2 L281.2,341.4 L280.0,341.6 L278.8,340.5 L277.6,342.0 L276.4,342.0 L275.2,343.0 L274.0,341.2 L272.8,343.4 L271.6,341.6 L270.4,343.6 L269.2,343.7 L268.0,343.8 L266.8,343.4 L265.6,345.3 L264.4,345.1 L263.2,345.3 L262.0,345.7 L260.8,345.4 L259.6,345.6 L258.4,345.9 L257.2,348.4 L256.0,346.9 L254.8,346.9 L253.6,347.7 L252.4,350.0 L251.2,348.7 L250.0,347.0 L248.8,349.7 L247.6,347.3 L246.4,349.9 L245.2,348.3 L244.0,349.8 L242.8,347.2 L241.6,348.1 L240.4,348.8 L239.2,346.9 L238.0,350.1 L236.8,347.8 L235.6,350.0 L234.4,348.2 L233.2,349.7 L232.0,346.9 L230.8,346.2 L229.6,345.7 L228.4,346.7 L227.2,344.1 L226.0,345.7 L224.8,343.3 L223.6,342.9 L222.4,342.3 L221.2,341.5 L220.0,339.2 L218.8,338.5 L217.6,338.4 L216.4,337.3 L215.2,338.4 L214.0,338.3 L212.8,337.0 L211.6,337.8 L210.4,338.0 L209.2,337.7 L208.0,338.8 L206.8,339.8 L205.6,339.0 L204.4,340.9 L203.2,340.2 L202.0,340.1 L200.8,339.9 L199.6,340.9 L198.4,339.5 L197.2,339.2 L196.0,339.9 L194.8,339.0 L193.6,340.2 L192.4,339.3 L191.2,340.1 L190.0,338.6 L188.8,338.8 L187.6,339.4 L186.4,339.3 L185.2,337.6 L184.0,338.8 L182.8,338.4 L181.6,337.1 L180.4,336.9 L179.2,337.8 L178.0,337.4 L176.8,336.8 L175.6,337.1 L174.4,336.6 L173.2,336.0 L172.0,336.4 L170.8,336.1 L169.6,336.4 L168.4,336.0 L167.2,335.1 L166.0,335.4 L164.8,335.1 L163.6,334.9 L162.4,335.0 L161.2,334.1 L160.0,334.0 L158.8,333.9 L157.6,333.9 L156.4,333.3 L155.2,333.5 L154.0,333.2 L152.8,332.9 L151.6,332.7 L150.4,332.5 L149.2,332.5 L148.0,332.3 L146.8,332.2 L145.6,332.3 L144.4,332.3 L143.2,332.5 L142.0,332.7 L140.8,332.8 L139.6,332.8 L138.4,333.1 L137.2,333.3 L136.0,333.3 L134.8,333.2 L133.6,333.2 L132.4,333.4 L131.2,333.4 L130.0,333.1 L128.8,333.2 L127.6,333.5 L126.4,333.6 L125.2,333.9 L124.0,333.6 L122.8,333.9 L121.6,334.0 L120.4,334.3 L119.2,334.4 L118.0,333.7 L116.8,334.1 L115.6,333.5 L114.4,333.3 L113.2,333.3 L112.0,332.9 L110.8,332.7 L109.6,332.8 L108.4,332.6 L107.2,332.2 L106.0,332.1 L104.8,331.9 L103.6,331.7 L102.4,331.6 L101.2,331.6 L100.0,331.5Z" fill="#1cdce6" opacity="0.65"/>
<path d="M102.9,331.2V331.8M105.3,330.7V332.4M107.6,329.9V333.0M110.0,329.3V333.7M112.3,328.4V334.7M114.7,327.8V335.4M117.0,327.5V335.7M119.4,326.6V336.8M121.7,326.4V336.3M124.1,327.6V335.7M126.4,327.4V335.2M128.8,327.9V334.9M131.1,328.6V335.1M133.5,328.1V334.5M135.8,328.3V334.5M138.2,328.7V334.3M140.5,329.3V333.7M142.9,329.7V333.4M145.2,330.0V332.9M147.6,330.0V332.8M149.9,329.4V333.4M152.3,328.9V333.9M154.6,328.0V334.4M157.0,327.8V335.1M159.3,326.5V336.5M161.7,326.2V336.9M164.0,324.6V338.0M166.4,324.9V338.2M168.7,324.0V338.8M171.1,322.8V339.4M173.4,321.0V340.8M175.8,321.2V341.9M178.1,320.0V342.9M180.5,320.2V342.4M182.8,319.5V342.2M185.2,318.9V344.6M187.5,316.6V345.6M189.9,316.9V345.7M192.2,318.3V345.5M194.6,316.6V347.2M196.9,316.7V346.9M199.3,314.6V349.0M201.6,313.8V348.1M204.0,316.8V348.0M206.3,315.7V345.9M208.7,319.2V343.9M211.0,320.7V343.5M213.4,319.1V342.5M215.7,318.9V344.1M218.1,318.7V346.2M220.4,314.2V346.9M222.8,313.0V350.3M225.1,307.5V355.6M227.5,305.9V360.0M229.8,303.5V359.6M232.2,304.0V363.9M234.5,302.9V364.6M236.9,299.5V363.0M239.2,298.8V361.5M241.6,295.9V367.0M243.9,296.2V364.6M246.3,301.3V366.0M248.6,300.5V366.0M251.0,301.5V363.2M253.3,298.3V359.8M255.7,301.3V358.1M258.0,306.1V357.3M260.4,301.7V360.4M262.7,304.7V355.8M265.1,305.9V356.9M267.4,308.8V354.8M269.8,307.9V350.9M272.1,311.8V352.0M274.5,313.0V350.6M276.8,312.3V348.7M279.2,313.4V348.2M281.5,314.0V347.8M283.9,314.5V346.0M286.2,315.2V345.7M288.6,315.1V346.5M290.9,317.6V344.9M293.3,318.1V344.8M295.6,318.8V344.0M298.0,320.6V343.4M300.4,321.1V341.7M302.7,323.2V339.7M305.1,324.4V338.9M307.4,326.0V336.9M309.8,327.2V336.2M312.1,328.1V334.6M314.5,328.7V334.4M316.8,329.1V333.8M319.2,329.4V333.3M321.5,329.7V333.1M323.9,330.0V333.1M326.2,330.0V332.9M328.6,330.3V332.9M330.9,330.3V332.6M333.3,330.4V332.6M335.6,330.5V332.4M338.0,330.5V332.5M340.3,330.6V332.4M342.7,330.7V332.3M345.0,330.8V332.3M347.4,331.1V331.9" fill="none" stroke="#30f0f8" stroke-width="1.05"/>
<path d="M100,331.5 H350" stroke="#50f0f4" stroke-width="0.6" opacity="0.6"/>
<rect x="37.6" y="296.3" width="414.8" height="70.8" fill="none" stroke="#8c8c8c" stroke-width="0.9"/>
<path d="M141.4,367 V369 M244.4,367 V369 M347.6,367 V369" stroke="#bbb" stroke-width="0.7"/>
</svg>

<!-- spectrogram text -->

<!-- wave text -->

<!-- right control panel -->
<div class="btn" style="left:562.5px;top:31.8px;width:65.7px;height:9.6px;font-size:7.6px;line-height:9px;"></div>
<div class="bar" style="left:562.5px;top:45px;width:65.7px;height:7.4px;"></div>
<div class="a" style="left:562.5px;top:55.6px;width:65.7px;height:43px;background:#7fffd4;"></div>
<div class="a" style="left:562.5px;top:55.6px;width:65.7px;height:5.8px;background:#3390e8;"></div>
<div class="bar" style="left:562.5px;top:107.8px;width:65.7px;height:7px;"></div>
<div class="btn" style="left:562.5px;top:118.6px;width:65.7px;height:11px;font-size:7.6px;line-height:10.4px;"></div>
<div class="btn" style="left:562.5px;top:133px;width:44.4px;height:10.8px;font-size:6.8px;line-height:10.2px;"></div>
<div class="btn" style="left:610px;top:133px;width:18.2px;height:10.8px;font-size:4.6px;line-height:10.4px;"></div>
<div class="btn" style="left:562.5px;top:147px;width:44.4px;height:10.2px;font-size:4.4px;line-height:9.8px;"></div>
<div class="btn" style="left:610px;top:147px;width:18.2px;height:10.2px;font-size:4.6px;line-height:9.8px;"></div>
<div class="btn" style="left:562.3px;top:160.1px;width:12.4px;height:8.5px;font-size:4.4px;line-height:8.2px;background:#f0a020;border-color:#c88010;"></div>
<div class="btn" style="left:579px;top:160.1px;width:49.3px;height:8.5px;font-size:5px;line-height:8.2px;background:#cfcfcf;border-color:#c4c4c4;color:#b4b4b4;"></div>
<div class="bar" style="left:562.3px;top:172px;width:66px;height:7.4px;"></div>

<!-- dB colour bar -->
<div class="a" style="left:562px;top:185px;width:25.6px;height:96.4px;background:#3a3a3a;"></div>
<div class="a" style="left:578.3px;top:193.2px;width:6.4px;height:84px;background:linear-gradient(to bottom,#f00000 0%,#ff3000 4%,#ff9000 10%,#ffe000 17%,#d0ff00 23%,#40f000 32%,#00e800 40%,#00f090 50%,#00f0f0 57%,#00a0ff 65%,#0040ff 73%,#0000e0 80%,#000090 88%,#000030 95%,#000 100%);"></div>

<div class="spin" style="left:589.5px;top:191px;width:24.3px;height:6px;"></div>
<div class="spin" style="left:589.5px;top:208.8px;width:24.3px;height:6px;"></div>
<div class="spin" style="left:589.5px;top:226.6px;width:24.3px;height:6px;"></div>
<div class="spin" style="left:589.5px;top:244.2px;width:24.3px;height:6px;"></div>
<div class="a" style="left:613.8px;top:191px;width:5px;height:6px;background:#f4f4f4;border:0.4px solid #c0c0c0;box-sizing:border-box;"></div><svg class="a" style="left:613.8px;top:191px" width="5" height="6" viewBox="0 0 5 6"><path d="M1.6 2.4 L2.5 1.2 L3.4 2.4Z M1.6 3.6 L2.5 4.8 L3.4 3.6Z" fill="#555"/></svg>
<div class="a" style="left:613.8px;top:208.8px;width:5px;height:6px;background:#f4f4f4;border:0.4px solid #c0c0c0;box-sizing:border-box;"></div><svg class="a" style="left:613.8px;top:208.8px" width="5" height="6" viewBox="0 0 5 6"><path d="M1.6 2.4 L2.5 1.2 L3.4 2.4Z M1.6 3.6 L2.5 4.8 L3.4 3.6Z" fill="#555"/></svg>
<div class="a" style="left:613.8px;top:226.6px;width:5px;height:6px;background:#f4f4f4;border:0.4px solid #c0c0c0;box-sizing:border-box;"></div><svg class="a" style="left:613.8px;top:226.6px" width="5" height="6" viewBox="0 0 5 6"><path d="M1.6 2.4 L2.5 1.2 L3.4 2.4Z M1.6 3.6 L2.5 4.8 L3.4 3.6Z" fill="#555"/></svg>
<div class="a" style="left:613.8px;top:244.2px;width:5px;height:6px;background:#f4f4f4;border:0.4px solid #c0c0c0;box-sizing:border-box;"></div><svg class="a" style="left:613.8px;top:244.2px" width="5" height="6" viewBox="0 0 5 6"><path d="M1.6 2.4 L2.5 1.2 L3.4 2.4Z M1.6 3.6 L2.5 4.8 L3.4 3.6Z" fill="#555"/></svg>

<!-- bottom groups -->
<div class="grp" style="left:465px;top:283px;width:29px;height:86px;"></div>
<div class="grp" style="left:496.6px;top:283px;width:35px;height:86px;"></div>
<div class="grp" style="left:534px;top:283px;width:94.6px;height:85px;"></div>
<div class="rad on" style="left:467.8px;top:300.7px;"></div>
<div class="rad" style="left:467.8px;top:310.3px;"></div>
<div class="rad" style="left:467.8px;top:319.9px;"></div>
<div class="rad" style="left:467.8px;top:329.5px;"></div>
<div class="rad" style="left:467.8px;top:339.0px;"></div>
<div class="rad" style="left:467.8px;top:348.7px;"></div>
<div class="rad" style="left:467.8px;top:358.5px;"></div>
<div class="rad on" style="left:499.5px;top:300.7px;"></div>
<div class="rad" style="left:499.5px;top:310.3px;"></div>
<div class="rad" style="left:499.5px;top:319.9px;"></div>
<div class="rad" style="left:499.5px;top:329.5px;"></div>
<div class="rad" style="left:499.5px;top:339.0px;"></div>
<div class="rad" style="left:499.5px;top:348.7px;"></div>

<div class="btn" style="left:541px;top:287px;width:80.8px;height:10.2px;font-size:6.2px;line-height:9.6px;word-spacing:1.5px;"></div>
<div class="fld" style="left:541px;top:300.5px;width:39px;height:7px;color:#e02020;"></div>
<div class="fld" style="left:583px;top:300.5px;width:38.8px;height:7px;color:#e8e040;"></div>
<div class="fld" style="left:562px;top:310px;width:38.8px;height:7px;color:#30d040;"></div>
<div class="btn" style="left:541px;top:328px;width:56.6px;height:10.8px;font-size:5.8px;line-height:10.2px;"></div>
<div class="btn" style="left:600px;top:328px;width:21.8px;height:10.8px;font-size:4.8px;line-height:10.2px;"></div>
<div class="btn" style="left:541px;top:342px;width:80.8px;height:10.6px;font-size:6.2px;line-height:10px;"></div>
<div class="btn" style="left:541px;top:355.8px;width:38.6px;height:10.4px;font-size:4.4px;line-height:10px;"></div>
<div class="btn" style="left:583px;top:355.8px;width:38.8px;height:10.4px;font-size:4.4px;line-height:10px;"></div>
<div class="bar" style="left:538.5px;top:373.2px;width:90px;height:7.4px;"></div>
<div class="btn" style="left:538.5px;top:385.6px;width:61.6px;height:9.6px;font-size:5.8px;line-height:9.2px;background:#ffa818;border-color:#e09010;"></div>
<div class="btn" style="left:607px;top:385.6px;width:21.6px;height:9.6px;font-size:5.6px;line-height:9.2px;"></div>
<div class="t" style="left:16.00px;top:24.36px;font-size:4.6px;color:#4a4a4a;font-family:'Liberation Sans',sans-serif;font-weight:normal;transform-origin:0 50%;transform:scaleX(0.821);-webkit-text-stroke-width:0.15px;">Sonogram View</div>
<div class="t" style="left:49.20px;top:24.36px;font-size:4.6px;color:#4a4a4a;font-family:'Liberation Sans',sans-serif;font-weight:normal;transform-origin:0 50%;transform:scaleX(0.796);-webkit-text-stroke-width:0.15px;">( Version 1.0 )</div>
<div class="t" style="left:85.60px;top:24.36px;font-size:4.6px;color:#4a4a4a;font-family:'Liberation Sans',sans-serif;font-weight:normal;transform-origin:0 50%;transform:scaleX(0.762);-webkit-text-stroke-width:0.15px;">[ C:¥Sound¥0_All_SetValues_Folder_(0) ]</div>
<div class="t" style="left:14.40px;top:34.23px;font-size:6.9px;color:#fff;font-family:'Liberation Sans',sans-serif;font-weight:bold;transform-origin:0 50%;transform:scaleX(0.831);-webkit-text-stroke-width:0.22px;">bat</div>
<div class="t" style="left:17.15px;top:42.86px;font-size:5.2px;color:#fff;font-family:'Liberation Sans',sans-serif;font-weight:bold;transform-origin:0 50%;transform:scaleX(0.889);-webkit-text-stroke-width:0.22px;">15000Hz</div>
<div class="t" style="left:17.15px;top:70.06px;font-size:5.2px;color:#fff;font-family:'Liberation Sans',sans-serif;font-weight:bold;transform-origin:0 50%;transform:scaleX(0.889);-webkit-text-stroke-width:0.22px;">13125Hz</div>
<div class="t" style="left:17.15px;top:98.06px;font-size:5.2px;color:#fff;font-family:'Liberation Sans',sans-serif;font-weight:bold;transform-origin:0 50%;transform:scaleX(0.901);-webkit-text-stroke-width:0.22px;">11250Hz</div>
<div class="t" style="left:18.40px;top:126.26px;font-size:5.2px;color:#fff;font-family:'Liberation Sans',sans-serif;font-weight:bold;transform-origin:0 50%;transform:scaleX(0.893);-webkit-text-stroke-width:0.22px;">9375Hz</div>
<div class="t" style="left:18.40px;top:154.36px;font-size:5.2px;color:#fff;font-family:'Liberation Sans',sans-serif;font-weight:bold;transform-origin:0 50%;transform:scaleX(0.893);-webkit-text-stroke-width:0.22px;">7500Hz</div>
<div class="t" style="left:18.40px;top:182.46px;font-size:5.2px;color:#fff;font-family:'Liberation Sans',sans-serif;font-weight:bold;transform-origin:0 50%;transform:scaleX(0.893);-webkit-text-stroke-width:0.22px;">5625Hz</div>
<div class="t" style="left:18.40px;top:209.56px;font-size:5.2px;color:#fff;font-family:'Liberation Sans',sans-serif;font-weight:bold;transform-origin:0 50%;transform:scaleX(0.893);-webkit-text-stroke-width:0.22px;">3750Hz</div>
<div class="t" style="left:18.40px;top:237.66px;font-size:5.2px;color:#fff;font-family:'Liberation Sans',sans-serif;font-weight:bold;transform-origin:0 50%;transform:scaleX(0.893);-webkit-text-stroke-width:0.22px;">1875Hz</div>
<div class="t" style="left:22.05px;top:266.26px;font-size:5.2px;color:#fff;font-family:'Liberation Sans',sans-serif;font-weight:bold;transform-origin:0 50%;transform:scaleX(0.941);-webkit-text-stroke-width:0.22px;">0Hz</div>
<div class="t" style="left:43.75px;top:271.22px;font-size:5.7px;color:#3fc4c4;font-family:'Liberation Sans',sans-serif;font-weight:bold;transform-origin:0 50%;transform:scaleX(0.922);-webkit-text-stroke-width:0.22px;">Frame Shift 2pt</div>
<div class="t" style="left:209.50px;top:271.22px;font-size:5.7px;color:#3fc4c4;font-family:'Liberation Sans',sans-serif;font-weight:bold;transform-origin:0 50%;transform:scaleX(0.936);-webkit-text-stroke-width:0.22px;">Number of Frames 1281</div>
<div class="t" style="left:386.25px;top:271.22px;font-size:5.7px;color:#3fc4c4;font-family:'Liberation Sans',sans-serif;font-weight:bold;transform-origin:0 50%;transform:scaleX(0.935);-webkit-text-stroke-width:0.22px;">Peak Frequency 4589Hz</div>
<div class="t" style="left:117.00px;top:274.76px;font-size:5.0px;color:#d01818;font-family:'Liberation Sans',sans-serif;font-weight:bold;transform-origin:0 50%;transform:scaleX(1.044);-webkit-text-stroke-width:0.22px;">4685Hz</div>
<div class="t" style="left:302.00px;top:274.76px;font-size:5.0px;color:#d01818;font-family:'Liberation Sans',sans-serif;font-weight:bold;transform-origin:0 50%;transform:scaleX(0.927);-webkit-text-stroke-width:0.22px;">-28.4dB</div>
<div class="t" style="left:446.00px;top:35.06px;font-size:5.6px;color:#fff;font-family:'Liberation Serif',serif;font-weight:bold;transform-origin:0 50%;transform:scaleX(1.214);-webkit-text-stroke-width:0.22px;">2</div>
<div class="t" style="left:449.90px;top:33.95px;font-size:7.2px;color:#fff;font-family:'Liberation Serif',serif;font-weight:bold;transform-origin:0 50%;transform:scaleX(1.109);-webkit-text-stroke-width:0.22px;">-d</div>
<div class="t" style="left:469.75px;top:35.06px;font-size:5.6px;color:#fff;font-family:'Liberation Serif',serif;font-weight:bold;transform-origin:0 50%;transform:scaleX(0.946);-webkit-text-stroke-width:0.22px;">1</div>
<div class="t" style="left:472.90px;top:33.95px;font-size:7.2px;color:#fff;font-family:'Liberation Serif',serif;font-weight:bold;transform-origin:0 50%;transform:scaleX(0.953);-webkit-text-stroke-width:0.22px;">-d</div>
<div class="t" style="left:509.75px;top:32.78px;font-size:7.0px;color:#35b8c4;font-family:'Liberation Sans',sans-serif;font-weight:bold;transform-origin:0 50%;transform:scaleX(0.883);-webkit-text-stroke-width:0.22px;">251 points LPC</div>
<div class="t" style="left:468.60px;top:273.28px;font-size:6.6px;color:#fff;font-family:'Liberation Sans',sans-serif;font-weight:normal;transform-origin:0 50%;transform:scaleX(0.772);-webkit-text-stroke-width:0.15px;">-60dB</div>
<div class="t" style="left:505.60px;top:273.28px;font-size:6.6px;color:#fff;font-family:'Liberation Sans',sans-serif;font-weight:normal;transform-origin:0 50%;transform:scaleX(0.749);-webkit-text-stroke-width:0.15px;">-30dB</div>
<div class="t" style="left:546.20px;top:273.28px;font-size:6.6px;color:#fff;font-family:'Liberation Sans',sans-serif;font-weight:normal;transform-origin:0 50%;transform:scaleX(0.817);-webkit-text-stroke-width:0.15px;">0dB</div>
<div class="t" style="left:14.40px;top:286.03px;font-size:6.9px;color:#fff;font-family:'Liberation Sans',sans-serif;font-weight:bold;transform-origin:0 50%;transform:scaleX(0.831);-webkit-text-stroke-width:0.22px;">bat</div>
<div class="t" style="left:237.00px;top:285.98px;font-size:7.0px;color:#35c8d0;font-family:'Liberation Sans',sans-serif;font-weight:bold;transform-origin:0 50%;transform:scaleX(0.875);-webkit-text-stroke-width:0.22px;">251 points LPC</div>
<div class="t" style="left:398.75px;top:284.78px;font-size:7.0px;color:#22c030;font-family:'Liberation Sans',sans-serif;font-weight:bold;transform-origin:0 50%;transform:scaleX(0.899);-webkit-text-stroke-width:0.22px;">1656 points wave</div>
<div class="t" style="left:18.00px;top:353.96px;font-size:5.4px;color:#d01828;font-family:'Liberation Sans',sans-serif;font-weight:bold;transform-origin:0 50%;transform:scaleX(0.958);font-style:italic;-webkit-text-stroke-width:0.22px;">-77.7%</div>
<div class="t" style="left:28.75px;top:372.07px;font-size:5.6px;color:#fff;font-family:'Liberation Sans',sans-serif;font-weight:bold;transform-origin:0 50%;transform:scaleX(0.942);-webkit-text-stroke-width:0.22px;">-0.017sec</div>
<div class="t" style="left:28.75px;top:378.77px;font-size:5.6px;color:#fff;font-family:'Liberation Sans',sans-serif;font-weight:bold;transform-origin:0 50%;transform:scaleX(0.950);-webkit-text-stroke-width:0.22px;">-432</div>
<div class="t" style="left:132.50px;top:372.07px;font-size:5.6px;color:#fff;font-family:'Liberation Sans',sans-serif;font-weight:bold;transform-origin:0 50%;transform:scaleX(0.922);-webkit-text-stroke-width:0.22px;">0.011sec</div>
<div class="t" style="left:132.50px;top:379.77px;font-size:5.6px;color:#fff;font-family:'Liberation Sans',sans-serif;font-weight:bold;transform-origin:0 50%;transform:scaleX(0.856);-webkit-text-stroke-width:0.22px;">271</div>
<div class="t" style="left:236.25px;top:372.07px;font-size:5.6px;color:#fff;font-family:'Liberation Sans',sans-serif;font-weight:bold;transform-origin:0 50%;transform:scaleX(0.910);-webkit-text-stroke-width:0.22px;">0.039sec</div>
<div class="t" style="left:236.25px;top:379.77px;font-size:5.6px;color:#fff;font-family:'Liberation Sans',sans-serif;font-weight:bold;transform-origin:0 50%;transform:scaleX(0.856);-webkit-text-stroke-width:0.22px;">973</div>
<div class="t" style="left:339.50px;top:372.07px;font-size:5.6px;color:#fff;font-family:'Liberation Sans',sans-serif;font-weight:bold;transform-origin:0 50%;transform:scaleX(0.931);-webkit-text-stroke-width:0.22px;">0.067sec</div>
<div class="t" style="left:339.50px;top:379.77px;font-size:5.6px;color:#fff;font-family:'Liberation Sans',sans-serif;font-weight:bold;transform-origin:0 50%;transform:scaleX(0.843);-webkit-text-stroke-width:0.22px;">1675</div>
<div class="t" style="left:432.00px;top:372.07px;font-size:5.6px;color:#fff;font-family:'Liberation Sans',sans-serif;font-weight:bold;transform-origin:0 50%;transform:scaleX(0.931);-webkit-text-stroke-width:0.22px;">0.095sec</div>
<div class="t" style="left:432.00px;top:379.77px;font-size:5.6px;color:#fff;font-family:'Liberation Sans',sans-serif;font-weight:bold;transform-origin:0 50%;transform:scaleX(0.883);-webkit-text-stroke-width:0.22px;">2378</div>
<div class="t" style="left:181.25px;top:372.07px;font-size:5.6px;color:#d01818;font-family:'Liberation Sans',sans-serif;font-weight:bold;transform-origin:0 50%;transform:scaleX(0.940);-webkit-text-stroke-width:0.22px;">0.037520sec</div>
<div class="t" style="left:189.50px;top:378.77px;font-size:5.6px;color:#d01818;font-family:'Liberation Sans',sans-serif;font-weight:bold;transform-origin:0 50%;transform:scaleX(0.856);-webkit-text-stroke-width:0.22px;">939</div>
<div class="t" style="left:577.00px;top:32.55px;font-size:7.8px;color:#111;font-family:'Liberation Serif',serif;font-weight:bold;transform-origin:0 50%;transform:scaleX(0.974);-webkit-text-stroke-width:0.22px;">Wave Files</div>
<div class="t" style="left:563.50px;top:56.36px;font-size:5.0px;color:#fff;font-family:'Liberation Sans',sans-serif;font-weight:bold;transform-origin:0 50%;transform:scaleX(0.947);-webkit-text-stroke-width:0.22px;">bat</div>
<div class="t" style="left:563.50px;top:62.16px;font-size:5.0px;color:#102030;font-family:'Liberation Sans',sans-serif;font-weight:bold;transform-origin:0 50%;transform:scaleX(1.018);-webkit-text-stroke-width:0.22px;">Freq_pt1</div>
<div class="t" style="left:593.80px;top:110.26px;font-size:5.4px;color:#602020;font-family:'Liberation Sans',sans-serif;font-weight:bold;transform-origin:0 50%;transform:scaleX(0.799);-webkit-text-stroke-width:0.22px;">1</div>
<div class="t" style="left:587.90px;top:119.79px;font-size:8.5px;color:#111;font-family:'Liberation Serif',serif;font-weight:bold;transform-origin:0 50%;transform:scaleX(0.844);-webkit-text-stroke-width:0.22px;">LPC</div>
<div class="t" style="left:574.75px;top:134.51px;font-size:6.9px;color:#111;font-family:'Liberation Serif',serif;font-weight:bold;transform-origin:0 50%;transform:scaleX(1.011);-webkit-text-stroke-width:0.22px;">Sound</div>
<div class="t" style="left:614.75px;top:135.97px;font-size:4.6px;color:#111;font-family:'Liberation Serif',serif;font-weight:bold;transform-origin:0 50%;transform:scaleX(1.034);-webkit-text-stroke-width:0.22px;">Stop</div>
<div class="t" style="left:568.75px;top:150.47px;font-size:4.6px;color:#111;font-family:'Liberation Serif',serif;font-weight:bold;transform-origin:0 50%;transform:scaleX(1.088);-webkit-text-stroke-width:0.22px;">Filtered Sound</div>
<div class="t" style="left:615.50px;top:150.47px;font-size:4.6px;color:#111;font-family:'Liberation Serif',serif;font-weight:bold;transform-origin:0 50%;transform:scaleX(0.838);-webkit-text-stroke-width:0.22px;">TPE</div>
<div class="t" style="left:565.75px;top:163.17px;font-size:4.4px;color:#503000;font-family:'Liberation Serif',serif;font-weight:bold;transform-origin:0 50%;transform:scaleX(0.938);-webkit-text-stroke-width:0.22px;">DF</div>
<div class="t" style="left:591.25px;top:161.77px;font-size:5.2px;color:#b8b8b8;font-family:'Liberation Serif',serif;font-weight:bold;transform-origin:0 50%;transform:scaleX(1.062);-webkit-text-stroke-width:0.22px;">Delete File</div>
<div class="t" style="left:569.20px;top:174.07px;font-size:5.8px;color:#401010;font-family:'Liberation Sans',sans-serif;font-weight:bold;transform-origin:0 50%;transform:scaleX(0.916);word-spacing:0.9px;-webkit-text-stroke-width:0.22px;">Auto  16bit  25000Hz</div>
<div class="t" style="left:568.75px;top:187.06px;font-size:4.6px;color:#fff;font-family:'Liberation Sans',sans-serif;font-weight:bold;transform-origin:0 50%;transform:scaleX(0.938);-webkit-text-stroke-width:0.22px;">dB</div>
<div class="t" style="left:571.10px;top:194.36px;font-size:4.6px;color:#fff;font-family:'Liberation Sans',sans-serif;font-weight:bold;transform-origin:0 50%;transform:scaleX(0.977);-webkit-text-stroke-width:0.22px;">0</div>
<div class="t" style="left:568.40px;top:203.66px;font-size:4.6px;color:#fff;font-family:'Liberation Sans',sans-serif;font-weight:bold;transform-origin:0 50%;transform:scaleX(1.271);-webkit-text-stroke-width:0.22px;">-8</div>
<div class="t" style="left:566.60px;top:213.96px;font-size:4.6px;color:#fff;font-family:'Liberation Sans',sans-serif;font-weight:bold;transform-origin:0 50%;transform:scaleX(1.053);-webkit-text-stroke-width:0.22px;">-16</div>
<div class="t" style="left:566.60px;top:224.16px;font-size:4.6px;color:#fff;font-family:'Liberation Sans',sans-serif;font-weight:bold;transform-origin:0 50%;transform:scaleX(1.053);-webkit-text-stroke-width:0.22px;">-23</div>
<div class="t" style="left:566.60px;top:235.46px;font-size:4.6px;color:#fff;font-family:'Liberation Sans',sans-serif;font-weight:bold;transform-origin:0 50%;transform:scaleX(1.053);-webkit-text-stroke-width:0.22px;">-30</div>
<div class="t" style="left:566.60px;top:244.66px;font-size:4.6px;color:#fff;font-family:'Liberation Sans',sans-serif;font-weight:bold;transform-origin:0 50%;transform:scaleX(1.053);-webkit-text-stroke-width:0.22px;">-38</div>
<div class="t" style="left:566.60px;top:254.86px;font-size:4.6px;color:#fff;font-family:'Liberation Sans',sans-serif;font-weight:bold;transform-origin:0 50%;transform:scaleX(1.053);-webkit-text-stroke-width:0.22px;">-45</div>
<div class="t" style="left:566.60px;top:265.06px;font-size:4.6px;color:#fff;font-family:'Liberation Sans',sans-serif;font-weight:bold;transform-origin:0 50%;transform:scaleX(1.053);-webkit-text-stroke-width:0.22px;">-53</div>
<div class="t" style="left:566.60px;top:275.16px;font-size:4.6px;color:#fff;font-family:'Liberation Sans',sans-serif;font-weight:bold;transform-origin:0 50%;transform:scaleX(1.053);-webkit-text-stroke-width:0.22px;">-60</div>
<div class="t" style="left:589.25px;top:184.66px;font-size:5.6px;color:#a6a6a6;font-family:'Liberation Serif',serif;font-weight:bold;transform-origin:0 50%;transform:scaleX(1.033);-webkit-text-stroke-width:0.22px;">Red (1-253)</div>
<div class="t" style="left:588.75px;top:203.16px;font-size:5.6px;color:#a6a6a6;font-family:'Liberation Serif',serif;font-weight:bold;transform-origin:0 50%;transform:scaleX(1.037);-webkit-text-stroke-width:0.22px;">Green (2-253)</div>
<div class="t" style="left:589.25px;top:221.16px;font-size:5.6px;color:#a6a6a6;font-family:'Liberation Serif',serif;font-weight:bold;transform-origin:0 50%;transform:scaleX(1.040);-webkit-text-stroke-width:0.22px;">Blue (2-252)</div>
<div class="t" style="left:589.25px;top:237.66px;font-size:5.6px;color:#a6a6a6;font-family:'Liberation Serif',serif;font-weight:bold;transform-origin:0 50%;transform:scaleX(1.004);-webkit-text-stroke-width:0.22px;">Black (1-251)</div>
<div class="t" style="left:591.25px;top:253.07px;font-size:5.0px;color:#a8a8a8;font-family:'Liberation Serif',serif;font-weight:normal;transform-origin:0 50%;transform:scaleX(1.073);-webkit-text-stroke-width:0.15px;">R &gt; G &gt; B &gt; B</div>
<div class="t" style="left:597.65px;top:192.76px;font-size:4.6px;color:#404848;font-family:'Liberation Sans',sans-serif;font-weight:bold;transform-origin:0 50%;transform:scaleX(0.808);-webkit-text-stroke-width:0.22px;">204</div>
<div class="t" style="left:597.65px;top:210.66px;font-size:4.6px;color:#404848;font-family:'Liberation Sans',sans-serif;font-weight:bold;transform-origin:0 50%;transform:scaleX(0.808);-webkit-text-stroke-width:0.22px;">153</div>
<div class="t" style="left:597.65px;top:229.46px;font-size:4.6px;color:#404848;font-family:'Liberation Sans',sans-serif;font-weight:bold;transform-origin:0 50%;transform:scaleX(0.808);-webkit-text-stroke-width:0.22px;">102</div>
<div class="t" style="left:598.65px;top:245.96px;font-size:4.6px;color:#404848;font-family:'Liberation Sans',sans-serif;font-weight:bold;transform-origin:0 50%;transform:scaleX(0.821);-webkit-text-stroke-width:0.22px;">51</div>
<div class="t" style="left:472.00px;top:287.46px;font-size:6.2px;color:#4488e0;font-family:'Liberation Serif',serif;font-weight:bold;transform-origin:0 50%;transform:scaleX(1.043);">Time</div>
<div class="t" style="left:503.75px;top:287.46px;font-size:6.2px;color:#4488e0;font-family:'Liberation Serif',serif;font-weight:bold;transform-origin:0 50%;transform:scaleX(1.039);">Color</div>
<div class="t" style="left:474.50px;top:301.06px;font-size:5.8px;color:#222;font-family:'Liberation Serif',serif;font-weight:bold;transform-origin:0 50%;transform:scaleX(0.931);-webkit-text-stroke-width:0.22px;">x 1</div>
<div class="t" style="left:474.50px;top:309.66px;font-size:5.8px;color:#222;font-family:'Liberation Serif',serif;font-weight:bold;transform-origin:0 50%;transform:scaleX(0.979);-webkit-text-stroke-width:0.22px;">x 2</div>
<div class="t" style="left:474.50px;top:320.26px;font-size:5.8px;color:#222;font-family:'Liberation Serif',serif;font-weight:bold;transform-origin:0 50%;transform:scaleX(1.007);-webkit-text-stroke-width:0.22px;">x 4</div>
<div class="t" style="left:474.50px;top:329.86px;font-size:5.8px;color:#222;font-family:'Liberation Serif',serif;font-weight:bold;transform-origin:0 50%;transform:scaleX(0.979);-webkit-text-stroke-width:0.22px;">x 8</div>
<div class="t" style="left:474.50px;top:339.36px;font-size:5.8px;color:#222;font-family:'Liberation Serif',serif;font-weight:bold;transform-origin:0 50%;transform:scaleX(1.034);-webkit-text-stroke-width:0.22px;">x 16</div>
<div class="t" style="left:474.50px;top:349.06px;font-size:5.8px;color:#222;font-family:'Liberation Serif',serif;font-weight:bold;transform-origin:0 50%;transform:scaleX(1.084);-webkit-text-stroke-width:0.22px;">x 32</div>
<div class="t" style="left:474.50px;top:358.86px;font-size:5.8px;color:#222;font-family:'Liberation Serif',serif;font-weight:bold;transform-origin:0 50%;transform:scaleX(1.084);-webkit-text-stroke-width:0.22px;">x 64</div>
<div class="t" style="left:506.25px;top:301.06px;font-size:5.8px;color:#222;font-family:'Liberation Serif',serif;font-weight:bold;transform-origin:0 50%;transform:scaleX(1.069);-webkit-text-stroke-width:0.22px;">Color1</div>
<div class="t" style="left:506.25px;top:309.66px;font-size:5.8px;color:#222;font-family:'Liberation Serif',serif;font-weight:bold;transform-origin:0 50%;transform:scaleX(1.086);-webkit-text-stroke-width:0.22px;">Color2</div>
<div class="t" style="left:506.25px;top:320.26px;font-size:5.8px;color:#222;font-family:'Liberation Serif',serif;font-weight:bold;transform-origin:0 50%;transform:scaleX(1.050);-webkit-text-stroke-width:0.22px;">W-B1</div>
<div class="t" style="left:506.25px;top:329.86px;font-size:5.8px;color:#222;font-family:'Liberation Serif',serif;font-weight:bold;transform-origin:0 50%;transform:scaleX(1.102);-webkit-text-stroke-width:0.22px;">W-B2</div>
<div class="t" style="left:506.25px;top:339.36px;font-size:5.8px;color:#222;font-family:'Liberation Serif',serif;font-weight:bold;transform-origin:0 50%;transform:scaleX(1.034);-webkit-text-stroke-width:0.22px;">B-W1</div>
<div class="t" style="left:506.25px;top:349.06px;font-size:5.8px;color:#222;font-family:'Liberation Serif',serif;font-weight:bold;transform-origin:0 50%;transform:scaleX(1.086);-webkit-text-stroke-width:0.22px;">B-W2</div>
<div class="t" style="left:566.25px;top:288.76px;font-size:6.4px;color:#111;font-family:'Liberation Serif',serif;font-weight:bold;transform-origin:0 50%;transform:scaleX(1.055);-webkit-text-stroke-width:0.22px;">Set  Range</div>
<div class="t" style="left:554.50px;top:302.47px;font-size:5.6px;color:#c82020;font-family:'Liberation Sans',sans-serif;font-weight:bold;transform-origin:0 50%;transform:scaleX(0.963);-webkit-text-stroke-width:0.22px;">1554</div>
<div class="t" style="left:596.00px;top:302.47px;font-size:5.6px;color:#d0c848;font-family:'Liberation Sans',sans-serif;font-weight:bold;transform-origin:0 50%;transform:scaleX(0.963);-webkit-text-stroke-width:0.22px;">1827</div>
<div class="t" style="left:576.80px;top:311.97px;font-size:5.6px;color:#30b838;font-family:'Liberation Sans',sans-serif;font-weight:bold;transform-origin:0 50%;transform:scaleX(0.963);-webkit-text-stroke-width:0.22px;">573</div>
<div class="t" style="left:552.50px;top:329.66px;font-size:6.0px;color:#111;font-family:'Liberation Serif',serif;font-weight:bold;transform-origin:0 50%;transform:scaleX(1.033);-webkit-text-stroke-width:0.22px;">Wave Sound</div>
<div class="t" style="left:605.50px;top:332.47px;font-size:4.8px;color:#111;font-family:'Liberation Serif',serif;font-weight:bold;transform-origin:0 50%;transform:scaleX(1.098);-webkit-text-stroke-width:0.22px;">Stop</div>
<div class="t" style="left:565.75px;top:343.76px;font-size:6.4px;color:#111;font-family:'Liberation Serif',serif;font-weight:bold;transform-origin:0 50%;transform:scaleX(1.074);-webkit-text-stroke-width:0.22px;">Save Wave</div>
<div class="t" style="left:548.75px;top:359.47px;font-size:4.6px;color:#111;font-family:'Liberation Serif',serif;font-weight:bold;transform-origin:0 50%;transform:scaleX(0.983);-webkit-text-stroke-width:0.22px;">Export CSV</div>
<div class="t" style="left:589.50px;top:359.47px;font-size:4.6px;color:#111;font-family:'Liberation Serif',serif;font-weight:bold;transform-origin:0 50%;transform:scaleX(1.002);-webkit-text-stroke-width:0.22px;">Append CSV</div>
<div class="t" style="left:547.60px;top:386.66px;font-size:6.0px;color:#301800;font-family:'Liberation Serif',serif;font-weight:bold;transform-origin:0 50%;transform:scaleX(1.162);-webkit-text-stroke-width:0.22px;">Set Values Sub</div>
<div class="t" style="left:612.00px;top:387.76px;font-size:5.8px;color:#111;font-family:'Liberation Serif',serif;font-weight:bold;transform-origin:0 50%;transform:scaleX(0.998);-webkit-text-stroke-width:0.22px;">End</div><div class="a" style="left:575.3px;top:194.3px;width:2.4px;height:0.6px;background:#ddd;"></div><div class="a" style="left:575.3px;top:204.6px;width:2.4px;height:0.6px;background:#ddd;"></div><div class="a" style="left:575.3px;top:214.9px;width:2.4px;height:0.6px;background:#ddd;"></div><div class="a" style="left:575.3px;top:225.1px;width:2.4px;height:0.6px;background:#ddd;"></div><div class="a" style="left:575.3px;top:235.4px;width:2.4px;height:0.6px;background:#ddd;"></div><div class="a" style="left:575.3px;top:245.6px;width:2.4px;height:0.6px;background:#ddd;"></div><div class="a" style="left:575.3px;top:255.8px;width:2.4px;height:0.6px;background:#ddd;"></div><div class="a" style="left:575.3px;top:266.0px;width:2.4px;height:0.6px;background:#ddd;"></div><div class="a" style="left:575.3px;top:276.1px;width:2.4px;height:0.6px;background:#ddd;"></div>
</body></html>
